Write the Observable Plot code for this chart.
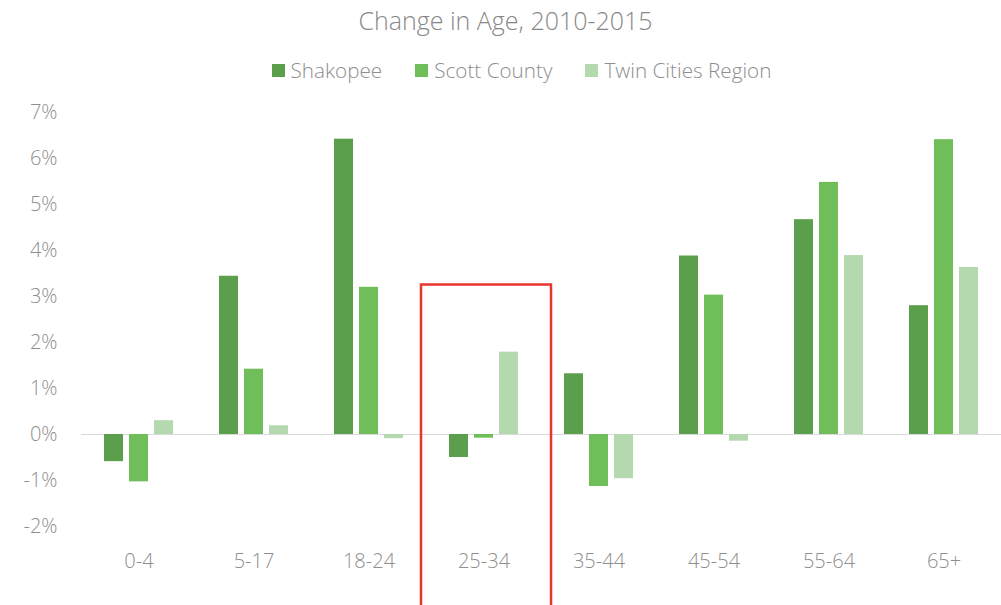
<!DOCTYPE html>
<html><head><meta charset="utf-8">
<script src="https://cdn.jsdelivr.net/npm/d3@7"></script>
<script src="https://cdn.jsdelivr.net/npm/@observablehq/plot@0.6"></script>
<style>
html,body{margin:0;padding:0;background:#fff;}
body{font-family:"Open Sans",sans-serif;width:1001px;height:605px;overflow:hidden;position:relative;}
#title{position:absolute;top:0;left:5px;width:1001px;text-align:center;font-size:25px;color:#888888;line-height:40px;font-weight:300;}
#legend{position:absolute;top:55px;left:21px;width:1001px;display:flex;justify-content:center;gap:33px;font-size:20.7px;color:#8e8e8e;line-height:30px;font-weight:300;}
#legend .item{display:flex;align-items:center;gap:6px;}
#legend .sw{width:13px;height:13px;display:inline-block;}
#chart{position:absolute;top:95px;left:0;}
</style></head>
<body>
<div id="title">Change in Age, 2010-2015</div>
<div id="legend"></div>
<div id="chart"></div>
<script>
const ages = ["0-4","5-17","18-24","25-34","35-44","45-54","55-64","65+"];
const series = ["Shakopee","Scott County","Twin Cities Region"];
const colors = ["#5b9e4b","#70be5a","#b4d9ae"];
const shakopee = [-0.59, 3.44, 6.42, -0.50, 1.32, 3.88, 4.67, 2.80];
const scott    = [-1.03, 1.42, 3.20, -0.08, -1.13, 3.03, 5.48, 6.41];
const twin     = [0.30, 0.19, -0.09, 1.79, -0.96, -0.145, 3.89, 3.63];
const yTicks = [-2,-1,0,1,2,3,4,5,6,7];
const highlight = [{age:"25-34", top:3.25, bottom:-5}];

const values = [shakopee, scott, twin];
const data = [];
ages.forEach((a,i)=>series.forEach((s,j)=>data.push({age:a, series:s, value:values[j][i]})));

const leg = document.getElementById("legend");
series.forEach((s,i)=>{
  const it=document.createElement("div");it.className="item";
  const sw=document.createElement("span");sw.className="sw";sw.style.background=colors[i];
  const t=document.createElement("span");t.textContent=s;
  it.appendChild(sw);it.appendChild(t);leg.appendChild(it);
});

const chart = Plot.plot({
  width:1001, height:510,
  marginLeft:80, marginRight:0, marginTop:17, marginBottom:79,
  style:{fontFamily:"'Open Sans',sans-serif", fontSize:"20px", fontWeight:300, color:"#8e8e8e", background:"transparent", overflow:"visible"},
  fx:{domain:ages, padding:0, label:null, axis:"bottom", tickSize:0, tickPadding:27},
  x:{domain:series, paddingInner:0.2308, paddingOuter:0.827, axis:null},
  y:{domain:[-2,7], ticks:yTicks, tickFormat:d=>d+"%", label:null, tickSize:0, tickPadding:24},
  color:{domain:series, range:colors},
  marks:[
    Plot.ruleY([0],{stroke:"#d9d9d9", strokeWidth:1.2}),
    Plot.barY(data,{fx:"age", x:"series", y:"value", fill:"series"}),
    Plot.rect(highlight,{fx:"age", y1:"top", y2:"bottom", fill:"none", stroke:"#e8352f", strokeWidth:2.5, insetLeft:-5, insetRight:-10, clip:false})
  ]
});
document.getElementById("chart").appendChild(chart);
</script>
</body></html>
